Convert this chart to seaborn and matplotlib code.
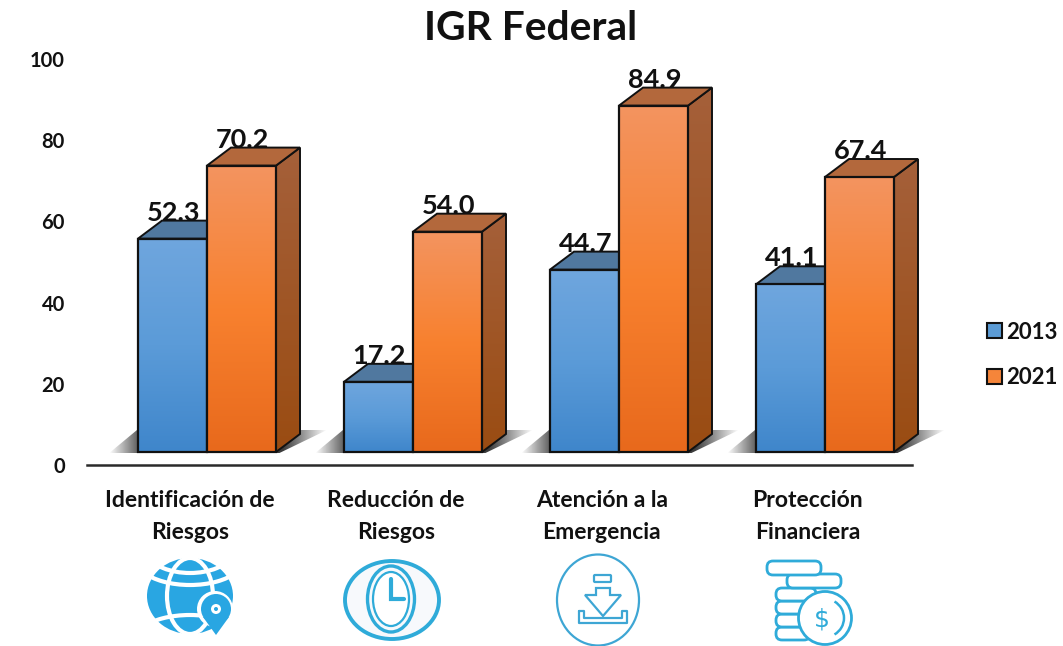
import numpy as np
import pandas as pd
import seaborn as sns
import matplotlib
matplotlib.use("Agg")
import matplotlib.pyplot as plt
from matplotlib.patches import Polygon, Ellipse, Circle, FancyBboxPatch, Patch, Arc
from matplotlib.colors import LinearSegmentedColormap

categories = ["Identificación de\nRiesgos", "Reducción de\nRiesgos",
              "Atención a la\nEmergencia", "Protección\nFinanciera"]
years = ["2013", "2021"]
values_2013 = [52.3, 17.2, 44.7, 41.1]
values_2021 = [70.2, 54.0, 84.9, 67.4]
y_ticks = [0, 20, 40, 60, 80, 100]

W, H = 1063, 646
sns.set_theme(style="white")
plt.rcParams["font.family"] = ["Lato", "DejaVu Sans"]
plt.rcParams["font.weight"] = "bold"
INK = "#111111"

fig = plt.figure(figsize=(W / 100, H / 100), dpi=100, facecolor="white")


def axes_px(left, right, top, bottom, **kw):
    return fig.add_axes([left / W, 1 - bottom / H, (right - left) / W, (bottom - top) / H], **kw)


# Pixel scale of the bars
PX_X, PX_Y = 206.0, 4.08
X0 = 207.0
DEPTH_X, DEPTH_Y = 24 / PX_X, 18 / PX_Y

# Value axis (drawn slightly below the floor of the 3D bars)
ax_t = axes_px(87, 912, 59, 465)
ax_t.set_xlim((87 - X0) / PX_X, (912 - X0) / PX_X)
ax_t.set_ylim(0, 100)
ax_t.set_yticks(y_ticks)
ax_t.set_yticklabels([str(v) for v in y_ticks], fontsize=14.5, fontweight="bold", color=INK)
ax_t.set_xticks([i - 0.083 for i in range(len(categories))])
ax_t.set_xticklabels(categories, fontsize=16.5, fontweight="bold", color=INK, linespacing=1.64)
ax_t.tick_params(axis="y", length=0, pad=16)
ax_t.tick_params(axis="x", length=0, pad=18)
sns.despine(ax=ax_t, left=True)
ax_t.spines["bottom"].set_linewidth(1.8)
ax_t.spines["bottom"].set_color("#2a2a2a")
ax_t.patch.set_alpha(0)

# Bars
ax_b = axes_px(87, 960, 452 - 106 * PX_Y, 452 + 1 * PX_Y)
ax_b.patch.set_alpha(0)
df = pd.DataFrame({
    "categoria": categories * 2,
    "anio": [years[0]] * 4 + [years[1]] * 4,
    "valor": values_2013 + values_2021,
})
palette = {"2013": "#5b9bd5", "2021": "#f5853a"}
sns.barplot(data=df, x="categoria", y="valor", hue="anio", palette=palette,
            width=138 / PX_X, gap=0, legend=False, ax=ax_b,
            edgecolor=INK, linewidth=1.6)
xlim = ((87 - X0) / PX_X, (960 - X0) / PX_X)
ylim = (-1, 106)

front = {
    "2013": ["#6fa6de", "#5b9bd8", "#3f86cb"],
    "2021": ["#f39460", "#f8812f", "#e8691c"],
}
side = {"2013": ["#3f6d9e", "#2f5f94"], "2021": ["#a5603a", "#9a4c12"]}
top = {"2013": "#50789f", "2021": "#b3683c"}


def vgrad(colors):
    cmap = LinearSegmentedColormap.from_list("g", colors)
    return cmap(np.linspace(0, 1, 256))[:, None, :]


# Floor shadows
for i in range(len(categories)):
    xl = i - 98 / PX_X
    xr = i + 120 / PX_X
    t = np.linspace(0, 1, 256)
    rgba = np.zeros((1, 256, 4))
    rgba[..., :3] = 0.1
    rgba[0, :, 3] = 0.85 * np.clip(t / 0.16, 0, 1) * np.clip((1 - t) / 0.2, 0, 1)
    im = ax_b.imshow(rgba, extent=(xl, xr, -0.3, 22 / PX_Y), aspect="auto", zorder=1)
    clip = Polygon([(xl, -0.3), (i - 70 / PX_X, 22 / PX_Y), (xr, 22 / PX_Y), (i + 72 / PX_X, -0.3)],
                   transform=ax_b.transData)
    im.set_clip_path(clip)

# 3D faces built from the bars seaborn drew
for k, (year, cont) in enumerate(zip(years, ax_b.containers)):
    base_z = 2 + 3 * k
    for bar in cont:
        x0, w, h = bar.get_x(), bar.get_width(), bar.get_height()
        x1 = x0 + w
        # side face
        pts = [(x1, 0), (x1 + DEPTH_X, DEPTH_Y), (x1 + DEPTH_X, h + DEPTH_Y), (x1, h)]
        im = ax_b.imshow(vgrad(side[year]), extent=(x1, x1 + DEPTH_X, 0, h + DEPTH_Y),
                         aspect="auto", zorder=base_z)
        im.set_clip_path(Polygon(pts, transform=ax_b.transData))
        ax_b.add_patch(Polygon(pts, closed=True, fill=False, edgecolor=INK, lw=1.4, zorder=base_z + 0.5))
        # top face
        ax_b.add_patch(Polygon([(x0, h), (x0 + DEPTH_X, h + DEPTH_Y), (x1 + DEPTH_X, h + DEPTH_Y), (x1, h)],
                               closed=True, facecolor=top[year], edgecolor=INK, lw=1.4, zorder=base_z + 0.5))
        # front face
        im = ax_b.imshow(vgrad(front[year]), extent=(x0, x1, 0, h), aspect="auto", zorder=base_z + 1)
        im.set_clip_path(bar)
        bar.set_facecolor("none")
        bar.set_zorder(base_z + 1.5)
        # value label
        ax_b.annotate(f"{h:.1f}", (x0 + w / 2 + 1 / PX_X, h), xytext=(0, 13), textcoords="offset points",
                      ha="center", va="baseline", fontsize=19.5, fontweight="bold", color=INK, zorder=12,
                      annotation_clip=False)

ax_b.set_xlim(*xlim)
ax_b.set_ylim(*ylim)
ax_b.axis("off")

# Title and legend
fig.text(531 / W, 1 - 28 / H, "IGR Federal", ha="center", va="center",
         fontsize=29.3, fontweight="bold", color=INK)
handles = [Patch(facecolor=palette[y], edgecolor=INK, linewidth=1.5) for y in years]
fig.legend(handles, years, loc="center left", bbox_to_anchor=(967 / W, 1 - 355 / H), frameon=False,
           prop={"size": 16, "weight": "bold"}, handlelength=0.68, handleheight=0.68, handletextpad=0.2,
           labelspacing=1.12, labelcolor=INK)

# Decorative icons, drawn in pixel space
ax_i = axes_px(0, W, 0, H)
ax_i.set_xlim(0, W)
ax_i.set_ylim(H, 0)
ax_i.axis("off")
ax_i.patch.set_alpha(0)
BL = "#29a6e2"
BL2 = "#2fabd9"

# Globe
ax_i.add_patch(Ellipse((190, 596), 86, 76, fc=BL, ec="none"))
ax_i.add_patch(Ellipse((190, 596), 46, 76, fc="none", ec="white", lw=3))
ax_i.add_patch(Arc((190, 548), 90, 50, theta1=10, theta2=170, ec="white", lw=3))
ax_i.add_patch(Arc((190, 560), 106, 50, theta1=15, theta2=165, ec="white", lw=3))
ax_i.add_patch(Arc((190, 640), 110, 50, theta1=195, theta2=345, ec="white", lw=3))
ax_i.add_patch(Circle((215, 609), 18, fc="white", ec="none"))
ax_i.add_patch(Polygon([(203, 617), (216, 635), (229, 617)], fc=BL, ec="none"))
ax_i.add_patch(Circle((216, 609), 15, fc=BL, ec="none"))
ax_i.add_patch(Circle((216, 609), 5, fc="white", ec="none"))
ax_i.add_patch(Circle((216, 609), 2, fc=BL, ec="none"))

# Clock
ax_i.add_patch(Ellipse((392, 600), 94, 78, fc="#f7f9fc", ec=BL2, lw=2.8))
ax_i.add_patch(Ellipse((391, 599), 47, 66, fc="none", ec=BL2, lw=2.4))
ax_i.add_patch(Ellipse((391, 599), 36, 54, fc="white", ec=BL2, lw=1.6))
ax_i.plot([391, 391, 404], [579, 599, 599], color=BL2, lw=3, solid_joinstyle="miter")

# Download
LB = "#3ea6d4"
ax_i.add_patch(Ellipse((598, 600), 82, 91, fc="white", ec=LB, lw=1.6))
ax_i.add_patch(FancyBboxPatch((595, 576), 15, 5, boxstyle="round,pad=1", fc="white", ec=LB, lw=1.6))
ax_i.add_patch(Polygon([(596, 588), (610, 588), (610, 595), (621, 595), (603, 616), (585, 595), (596, 595)],
                       closed=True, fc="white", ec=LB, lw=1.6))
ax_i.plot([579, 579, 627, 627, 622, 622, 584, 584, 579], [611, 623, 623, 611, 611, 618, 618, 611, 611],
          color=LB, lw=1.6)

# Coins
for (x, y, w, h) in [(776, 627, 34, 13), (776, 614, 34, 13), (776, 601, 34, 13), (776, 588, 40, 13),
                     (787, 574, 54, 14), (767, 561, 54, 14)]:
    ax_i.add_patch(FancyBboxPatch((x, y), w, h, boxstyle="round,pad=0,rounding_size=6", fc="white", ec=BL2, lw=2))
ax_i.add_patch(Circle((825, 618), 26.5, fc="white", ec=BL2, lw=2))
ax_i.add_patch(Arc((825, 618), 38, 38, theta1=-60, theta2=60, ec=BL2, lw=1.8))
ax_i.text(822, 619, "$", color=BL2, fontsize=18, fontweight="normal", ha="center", va="center", family="DejaVu Sans")

fig.savefig("out.png", dpi=100, facecolor="white")
